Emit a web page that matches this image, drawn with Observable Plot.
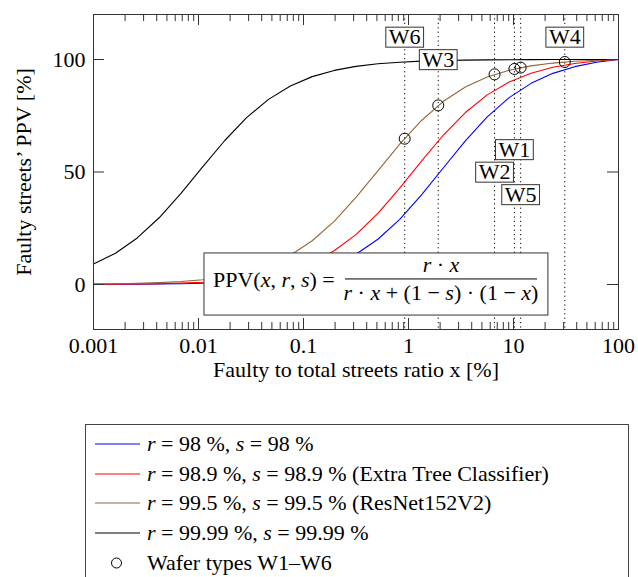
<!DOCTYPE html>
<html><head><meta charset="utf-8">
<script src="https://cdn.jsdelivr.net/npm/d3@7"></script>
<script src="https://cdn.jsdelivr.net/npm/@observablehq/plot@0.6"></script>
<style>
body{margin:0;background:#fff;}
#wrap{position:relative;width:638px;height:577px;overflow:hidden;font-family:'Liberation Serif',serif;color:#000;}
#legend{position:absolute;left:85px;top:424px;width:544px;height:175px;border:1px solid #444;box-sizing:border-box;padding-top:4px;background:#fff;}
.row{height:29.7px;display:flex;align-items:center;font-size:22px;white-space:nowrap;}
.row svg{margin-left:9px;margin-right:7px;flex:none;}
</style></head><body><div id="wrap"><div id="chart"></div><div id="legend"></div></div>
<script>
// ---- data ----
const xPct = [0.001, 0.00162, 0.00261, 0.00422, 0.00681, 0.0110, 0.0178, 0.0287, 0.0464, 0.0750, 0.121, 0.196, 0.316, 0.511, 0.825, 1.33, 2.15, 3.48, 5.62, 9.09, 14.7, 23.7, 38.3, 61.9, 100];
const ppvBlue  = [0.05, 0.08, 0.13, 0.21, 0.33, 0.54, 0.86, 1.39, 2.23, 3.55, 5.61, 8.77, 13.45, 20.10, 28.97, 39.84, 51.89, 63.86, 74.49, 83.04, 89.40, 93.84, 96.82, 98.76, 100];
const ppvRed   = [0.09, 0.15, 0.23, 0.38, 0.61, 0.98, 1.57, 2.52, 4.01, 6.32, 9.83, 14.99, 22.19, 31.59, 42.80, 54.86, 66.44, 76.43, 84.27, 89.98, 93.93, 96.55, 98.24, 99.32, 100];
const ppvBrown = [0.20, 0.32, 0.52, 0.83, 1.34, 2.14, 3.42, 5.41, 8.46, 12.99, 19.44, 28.07, 38.70, 50.54, 62.36, 72.90, 81.42, 87.77, 92.22, 95.21, 97.16, 98.41, 99.20, 99.69, 100];
const ppvBlack = [9.09, 13.91, 20.70, 29.66, 40.52, 52.39, 64.00, 74.18, 82.28, 88.24, 92.39, 95.15, 96.94, 98.09, 98.81, 99.27, 99.55, 99.72, 99.83, 99.90, 99.94, 99.97, 99.98, 99.99, 100];

const seriesKeys = ["r98", "r989", "r995", "r9999"];
const seriesValues = [ppvBlue, ppvRed, ppvBrown, ppvBlack];
const seriesColors = ["#0000ff", "#ff0000", "#946638", "#000000"];
const legendLabels = [
  "<i>r</i> = 98 %, <i>s</i> = 98 %",
  "<i>r</i> = 98.9 %, <i>s</i> = 98.9 % (Extra Tree Classifier)",
  "<i>r</i> = 99.5 %, <i>s</i> = 99.5 % (ResNet152V2)",
  "<i>r</i> = 99.99 %, <i>s</i> = 99.99 %"
];
const waferLegend = "Wafer types W1–W6";

// wafer types (drawing order: W6 first so W3 covers it)
const waferNames = ["W6", "W3", "W2", "W1", "W5", "W4"];
const waferX     = [0.92, 1.92, 6.6, 10.2, 11.7, 30.8];
const waferPPV   = [64.8, 79.6, 93.4, 95.8, 96.4, 98.9];
const waferLabelY = [110, 100, 50, 60, 40, 110];

const xTicks = [0.001, 0.01, 0.1, 1, 10, 100];
const xTickLabels = ["0.001", "0.01", "0.1", "1", "10", "100"];
const yTicks = [0, 50, 100];
const yTickLabels = ["0", "50", "100"];
const xTitle = "Faulty to total streets ratio x [%]";
const yTitle = "Faulty streets’ PPV [%]";
const formulaBox = {x1: 0.0114, x2: 21.5, y1: -13.8, y2: 13.8};

// ---- layout ----
const W = 638, H = 400, ML = 93, MR = 20, MT = 14, MB = 71;
const FW = W - ML - MR, FH = H - MT - MB;
const MAJ = 11, MIN = 7;
const minorTicks = [];
for (let e = -3; e < 2; e++) for (let m = 2; m <= 9; m++) minorTicks.push(m * Math.pow(10, e));

const rows = [];
seriesKeys.forEach((k, s) => seriesValues[s].forEach((v, i) => rows.push({x: xPct[i], y: v, series: k})));
const wafers = waferNames.map((n, i) => ({name: n, x: waferX[i], ppv: waferPPV[i], ly: waferLabelY[i]}));

const tickCol = "#333";
const plot = Plot.plot({
  width: W, height: H, marginLeft: ML, marginRight: MR, marginTop: MT, marginBottom: MB,
  style: {fontFamily: "'Liberation Serif', serif", fontSize: "22px", color: "#000", background: "#fff"},
  x: {type: "log", domain: [0.001, 100], label: null},
  y: {domain: [-20, 120], label: null},
  color: {domain: seriesKeys, range: seriesColors},
  marks: [
    Plot.line(rows, {x: "x", y: "y", z: "series", stroke: "series", strokeWidth: 1.1}),
    Plot.ruleX(wafers, {x: "x", stroke: "#000", strokeWidth: 1, strokeDasharray: "1.2,3.2"}),
    Plot.dot(wafers, {x: "x", y: "ppv", r: 5.5, stroke: "#000", fill: "none", strokeWidth: 1}),
    Plot.text(wafers, {x: "x", y: "ly", text: "name", fontSize: 22, fill: "#000"}),
    Plot.rect([formulaBox], {x1: "x1", x2: "x2", y1: "y1", y2: "y2", fill: "#fff", stroke: tickCol, strokeWidth: 1}),
    // inward ticks (bottom, top, left, right)
    Plot.tickX(xTicks, {x: d => d, insetTop: FH - MAJ, stroke: tickCol}),
    Plot.tickX(minorTicks, {x: d => d, insetTop: FH - MIN, stroke: tickCol}),
    Plot.tickX(xTicks, {x: d => d, insetBottom: FH - MAJ, stroke: tickCol}),
    Plot.tickX(minorTicks, {x: d => d, insetBottom: FH - MIN, stroke: tickCol}),
    Plot.tickY(yTicks, {y: d => d, insetRight: FW - MAJ, stroke: tickCol}),
    Plot.tickY(yTicks, {y: d => d, insetLeft: FW - MAJ, stroke: tickCol}),
    Plot.axisX(xTicks, {tickSize: 0, tickPadding: 8, tickFormat: d => xTickLabels[xTicks.indexOf(d)], label: null, fontSize: 22}),
    Plot.axisY(yTicks, {tickSize: 0, tickPadding: 8, tickFormat: d => yTickLabels[yTicks.indexOf(d)], label: null, fontSize: 22}),
    Plot.text([xTitle], {text: d => d, frameAnchor: "bottom", dy: 47, fontSize: 22, textAnchor: "middle"}),
    Plot.text([yTitle], {text: d => d, frameAnchor: "left", rotate: -90, dx: -70, fontSize: 22, textAnchor: "middle"}),
    Plot.frame({stroke: tickCol, strokeWidth: 1})
  ]
});
document.getElementById("chart").appendChild(plot);

// boxes behind wafer labels
const NS = "http://www.w3.org/2000/svg";
d3.select(plot).selectAll("text").filter(function() {
  return waferNames.includes(this.textContent) && this.parentNode.tagName.toLowerCase() === "g";
}).each(function() {
  const bb = this.getBBox();
  const base = bb.y + bb.height * 0.891 / 1.107;
  const r = document.createElementNS(NS, "rect");
  r.setAttribute("x", bb.x - 3);
  r.setAttribute("width", bb.width + 6);
  r.setAttribute("y", base - 17);
  r.setAttribute("height", 20);
  r.setAttribute("fill", "#fff");
  r.setAttribute("stroke", tickCol);
  r.setAttribute("stroke-width", 1);
  const tr = this.getAttribute("transform");
  if (tr) r.setAttribute("transform", tr);
  this.parentNode.insertBefore(r, this);
});

// formula inside the box
const sx = plot.scale("x"), sy = plot.scale("y");
const L = sx.apply(formulaBox.x1), T = sy.apply(formulaBox.y2);
const svg = d3.select(plot);
const fg = svg.append("g").attr("font-family", "'Liberation Serif', serif").attr("font-size", 22).attr("fill", "#000");
function mathText(x, y, parts, anchor) {
  const t = fg.append("text").attr("x", x).attr("y", y).attr("text-anchor", anchor || "start").style("white-space", "pre");
  parts.forEach(([s, it]) => t.append("tspan").attr("font-style", it ? "italic" : "normal").text(s));
}
mathText(L + 9, T + 34, [["PPV(", 0], ["x", 1], [", ", 0], ["r", 1], [", ", 0], ["s", 1], [") =", 0]]);
fg.append("line").attr("x1", L + 141).attr("x2", L + 333).attr("y1", T + 26).attr("y2", T + 26).attr("stroke", "#000").attr("stroke-width", 1);
mathText(L + 237, T + 19, [["r", 1], [" · ", 0], ["x", 1]], "middle");
mathText(L + 237, T + 47.5, [["r", 1], [" · ", 0], ["x", 1], [" + (1 − ", 0], ["s", 1], [") · (1 − ", 0], ["x", 1], [")", 0]], "middle");

// legend
const leg = document.getElementById("legend");
seriesKeys.forEach((k, i) => {
  const row = document.createElement("div");
  row.className = "row";
  row.innerHTML = `<svg width="45" height="10"><line x1="0" x2="45" y1="5" y2="5" stroke="${seriesColors[i]}" stroke-width="1.1"/></svg><span>${legendLabels[i]}</span>`;
  leg.appendChild(row);
});
const wrow = document.createElement("div");
wrow.className = "row";
wrow.innerHTML = `<svg width="45" height="14"><circle cx="21.5" cy="7" r="5" fill="none" stroke="#000" stroke-width="1"/></svg><span></span>`;
wrow.querySelector("span").textContent = waferLegend;
leg.appendChild(wrow);
</script></body></html>
